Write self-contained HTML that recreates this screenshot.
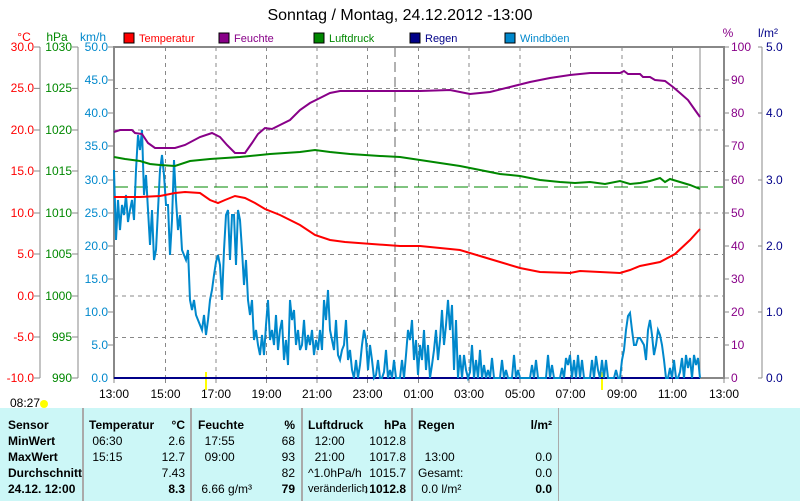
<!DOCTYPE html><html><head><style>body{margin:0;background:#fff;width:800px;height:501px;overflow:hidden;font-family:"Liberation Sans",sans-serif}
.c{position:absolute;top:417px;white-space:nowrap}
.c span{float:right}
</style></head><body>
<svg width="800" height="408" style="position:absolute;left:0;top:0" font-family="Liberation Sans, sans-serif" font-size="12">
<text x="400" y="20" text-anchor="middle" font-size="16">Sonntag / Montag, 24.12.2012  -13:00</text>
<text x="24" y="41" fill="#f00" text-anchor="middle">°C</text>
<text x="57" y="41" fill="#080" text-anchor="middle">hPa</text>
<text x="93" y="41" fill="#08c" text-anchor="middle">km/h</text>
<text x="728" y="37" fill="#808" text-anchor="middle">%</text>
<text x="768" y="37" fill="#008" text-anchor="middle">l/m²</text>
<g font-size="11"><rect x="124" y="33" width="10" height="10" fill="#f00" stroke="#000"/><text x="139" y="42" fill="#f00">Temperatur</text>
<rect x="219" y="33" width="10" height="10" fill="#808" stroke="#000"/><text x="234" y="42" fill="#808">Feuchte</text>
<rect x="314" y="33" width="10" height="10" fill="#080" stroke="#000"/><text x="329" y="42" fill="#080">Luftdruck</text>
<rect x="410" y="33" width="10" height="10" fill="#008" stroke="#000"/><text x="425" y="42" fill="#008">Regen</text>
<rect x="505" y="33" width="10" height="10" fill="#08c" stroke="#000"/><text x="520" y="42" fill="#08c">Windböen</text></g>
<g stroke="#888" stroke-dasharray="4,4" stroke-width="1">
<path d="M114 88.5H724M114 130H724M114 171.5H724M114 213H724M114 254.5H724M114 296H724M114 337.5H724"/>
<path d="M165.5 47V378M216 47V378M266.5 47V378M317 47V378M367.5 47V378M418.5 47V378M469 47V378M520 47V378M570.5 47V378M622 47V378M672.5 47V378"/>
</g>
<path d="M395 47V378" stroke="#666" stroke-dasharray="10,5"/>
<path d="M114 187H724" stroke="#080" stroke-dasharray="14,6"/>
<path d="M700 47V378" stroke="#888"/>
<rect x="114" y="47" width="610" height="331" fill="none" stroke="#888" stroke-width="2"/>
<g stroke="#888"><path d="M40 47V378M78 47V378M762 47V378"/>
<path d="M34 47h6M34 88.4h6M34 130h6M34 171h6M34 213h6M34 254h6M34 296h6M34 337h6M34 378h6"/>
<path d="M72 47h6M72 88.4h6M72 130h6M72 171h6M72 213h6M72 254h6M72 296h6M72 337h6M72 378h6"/>
<path d="M108 47h6M108 80h6M108 113h6M108 146h6M108 180h6M108 213h6M108 246h6M108 279h6M108 312h6M108 345h6"/>
<path d="M724 47h5M724 80h5M724 113h5M724 146h5M724 180h5M724 213h5M724 246h5M724 279h5M724 312h5M724 345h5M724 378h5"/>
<path d="M758 47h4M758 113h4M758 180h4M758 246h4M758 312h4M758 378h4"/>
<path d="M114 378v5M165.5 378v5M216 378v5M266.5 378v5M317 378v5M367.5 378v5M418.5 378v5M469 378v5M520 378v5M570.5 378v5M622 378v5M672.5 378v5M724 378v5"/></g>
<g text-anchor="end" fill="#f00"><text x="34" y="51">30.0</text><text x="34" y="92">25.0</text><text x="34" y="134">20.0</text><text x="34" y="175">15.0</text><text x="34" y="217">10.0</text><text x="34" y="258">5.0</text><text x="34" y="300">0.0</text><text x="34" y="341">-5.0</text><text x="34" y="382">-10.0</text></g>
<g text-anchor="end" fill="#080"><text x="72" y="51">1030</text><text x="72" y="92">1025</text><text x="72" y="134">1020</text><text x="72" y="175">1015</text><text x="72" y="217">1010</text><text x="72" y="258">1005</text><text x="72" y="300">1000</text><text x="72" y="341">995</text><text x="72" y="382">990</text></g>
<g text-anchor="end" fill="#08c"><text x="108" y="51">50.0</text><text x="108" y="84">45.0</text><text x="108" y="117">40.0</text><text x="108" y="150">35.0</text><text x="108" y="184">30.0</text><text x="108" y="217">25.0</text><text x="108" y="250">20.0</text><text x="108" y="283">15.0</text><text x="108" y="316">10.0</text><text x="108" y="349">5.0</text><text x="108" y="382">0.0</text></g>
<g fill="#808"><text x="731" y="51">100</text><text x="731" y="84">90</text><text x="731" y="117">80</text><text x="731" y="150">70</text><text x="731" y="184">60</text><text x="731" y="217">50</text><text x="731" y="250">40</text><text x="731" y="283">30</text><text x="731" y="316">20</text><text x="731" y="349">10</text><text x="731" y="382">0</text></g>
<g fill="#008"><text x="766" y="51">5.0</text><text x="766" y="117">4.0</text><text x="766" y="184">3.0</text><text x="766" y="250">2.0</text><text x="766" y="316">1.0</text><text x="766" y="382">0.0</text></g>
<g text-anchor="middle"><text x="114" y="398">13:00</text><text x="165.5" y="398">15:00</text><text x="216" y="398">17:00</text><text x="266.5" y="398">19:00</text><text x="317" y="398">21:00</text><text x="367.5" y="398">23:00</text><text x="418.5" y="398">01:00</text><text x="469" y="398">03:00</text><text x="520" y="398">05:00</text><text x="570.5" y="398">07:00</text><text x="622" y="398">09:00</text><text x="672.5" y="398">11:00</text><text x="724" y="398">13:00</text></g>
<text x="10" y="407">08:27</text><circle cx="44" cy="404" r="4" fill="#ff0"/>
<path d="M206 372V390M602 372V390" stroke="#ff0" stroke-width="2"/>
<path d="M114 378H700" stroke="#008" stroke-width="2"/>
<path fill="none" stroke="#08c" stroke-width="2" d="M114 170L116 240 118 200 120 230 122 205 124 215 126 195 128 222 130 210 132 200 134 220 136 170 138 135 140 150 142 130 144 195 146 175 148 210 150 245 152 210 154 260 156 250 158 210 160 170 162 155 164 175 166 205 168 205 170 255 172 220 174 160 176 200 178 230 180 215 182 250 184 255 186 260 188 250 190 300 192 310 194 300 196 315 198 320 200 325 202 330 204 315 206 335 208 320 210 300 212 290 214 275 216 262 218 255 220 265 222 300 224 250 226 215 228 210 230 260 232 215 234 215 236 265 238 210 240 220 242 250 244 285 246 260 248 300 250 315 252 300 254 340 256 330 258 345 260 355 262 335 264 355 266 325 268 300 270 340 272 330 274 345 276 315 278 350 280 330 282 320 284 360 286 340 288 365 290 300 292 320 294 310 296 345 298 330 300 350 302 345 304 320 306 350 308 335 310 345 312 330 314 355 316 340 318 350 320 330 322 350 324 300 326 320 328 290 330 330 332 340 334 350 336 320 338 355 340 360 342 350 344 345 346 320 348 360 350 350 352 370 354 378 356 360 358 378 360 365 362 345 364 330 366 340 368 370 370 345 372 360 374 378 376 375 378 360 380 378 382 378 384 372 386 350 388 378 390 370 392 378 394 360 396 378 400 378 402 360 404 378 406 355 408 330 410 340 412 320 414 360 416 340 418 375 420 345 422 360 424 330 426 370 428 345 430 378 432 365 434 350 436 330 438 360 440 340 442 310 444 345 446 325 448 300 450 330 452 305 454 370 456 320 458 378 460 355 462 378 464 355 466 370 468 378 470 372 472 345 474 378 476 360 478 378 480 350 482 378 484 365 486 378 488 370 490 378 492 358 494 378 500 378 502 360 504 378 506 370 508 378 512 378 514 355 516 378 518 370 520 378 530 378 532 365 534 378 536 360 538 378 546 378 548 355 550 378 552 365 554 378 560 378 562 368 564 378 566 358 568 365 570 355 572 378 574 360 576 378 578 355 580 378 582 360 584 378 590 378 592 360 594 378 596 356 598 370 600 378 602 360 604 378 606 360 608 378 614 378 616 370 618 378 620 378 622 360 624 350 626 330 628 316 630 313 632 330 634 345 636 345 638 338 640 338 644 345 646 360 648 330 650 320 652 335 654 355 656 345 658 330 660 335 662 345 664 360 666 378 668 378 670 368 672 378 674 360 676 378 678 378 680 372 682 358 684 378 686 355 688 368 690 358 692 378 694 355 696 365 698 358 700 378"/>
<path fill="none" stroke="#080" stroke-width="2" d="M114 157L125 159 140 161 150 164 160 165 175 166 190 161 210 159 240 157 270 154 300 152 315 150 330 152 350 154 380 156 400 157 420 160 440 163 460 166 480 170 500 174 520 176 540 180 560 182 575 183 590 182 605 184 620 181 630 184 640 183 650 181 660 178 665 182 670 179 690 185 700 189"/>
<path fill="none" stroke="#f00" stroke-width="2" d="M114 197L140 197 160 196 175 193 185 192 200 193 210 200 218 203 225 200 235 196 245 198 255 203 265 209 280 215 300 225 315 235 330 240 345 242 400 246 420 246 440 248 460 250 480 256 500 262 520 268 540 272 570 273 580 271 620 273 630 270 640 266 660 262 675 254 690 240 700 229"/>
<path fill="none" stroke="#808" stroke-width="2" d="M114 132L120 130 132 130 135 133 142 134 148 143 155 148 165 148 175 148 185 145 200 137 212 133 220 137 227 145 235 153 245 153 252 143 258 134 265 128 272 129 280 125 290 120 300 110 310 103 320 98 330 93 340 91 380 91 420 91 450 90 470 94 490 92 510 87 530 82 550 78 570 75 590 73 620 73 624 71 628 74 640 74 643 77 650 77 655 80 665 81 673 87 680 93 688 100 695 110 700 117"/>
</svg>
<div style="position:absolute;left:0;top:408px;width:800px;height:93px;background:#ccf7f7"></div>
<div style="position:absolute;left:0;top:0;width:800px;height:501px;font-size:12px;line-height:16px">
<div style="position:absolute;left:82px;top:408px;width:2px;height:93px;background:#aaa"></div>
<div style="position:absolute;left:190px;top:408px;width:2px;height:93px;background:#aaa"></div>
<div style="position:absolute;left:301px;top:408px;width:2px;height:93px;background:#aaa"></div>
<div style="position:absolute;left:411px;top:408px;width:2px;height:93px;background:#aaa"></div>
<div style="position:absolute;left:558px;top:408px;width:1px;height:93px;background:#aaa"></div>
<div class="c" style="left:8px;font-weight:bold">Sensor<br>MinWert<br>MaxWert<br>Durchschnitt<br>24.12. 12:00</div>
<div class="c" style="left:89px;width:96px"><b>Temperatur</b><span style="font-weight:bold">°C</span><br>&nbsp;06:30<span>2.6</span><br>&nbsp;15:15<span>12.7</span><br>&nbsp;<span>7.43</span><br>&nbsp;<span style="font-weight:bold">8.3</span></div>
<div class="c" style="left:198px;width:97px"><b>Feuchte</b><span style="font-weight:bold">%</span><br>&nbsp;&nbsp;17:55<span>68</span><br>&nbsp;&nbsp;09:00<span>93</span><br>&nbsp;<span>82</span><br>&nbsp;6.66 g/m³<span style="font-weight:bold">79</span></div>
<div class="c" style="left:308px;width:98px"><b>Luftdruck</b><span style="font-weight:bold">hPa</span><br>&nbsp;&nbsp;12:00<span>1012.8</span><br>&nbsp;&nbsp;21:00<span>1017.8</span><br>^1.0hPa/h<span>1015.7</span><br><span style="float:none;position:absolute;left:0;font-size:11px">veränderlich</span><span style="font-weight:bold;position:absolute;right:0">↓1012.8</span></div>
<div class="c" style="left:418px;width:134px"><b>Regen</b><span style="font-weight:bold">l/m²</span><br>&nbsp;<br>&nbsp;&nbsp;13:00<span>0.0</span><br>Gesamt:<span>0.0</span><br>&nbsp;0.0 l/m²<span style="font-weight:bold">0.0</span></div>
</div>
</body></html>
